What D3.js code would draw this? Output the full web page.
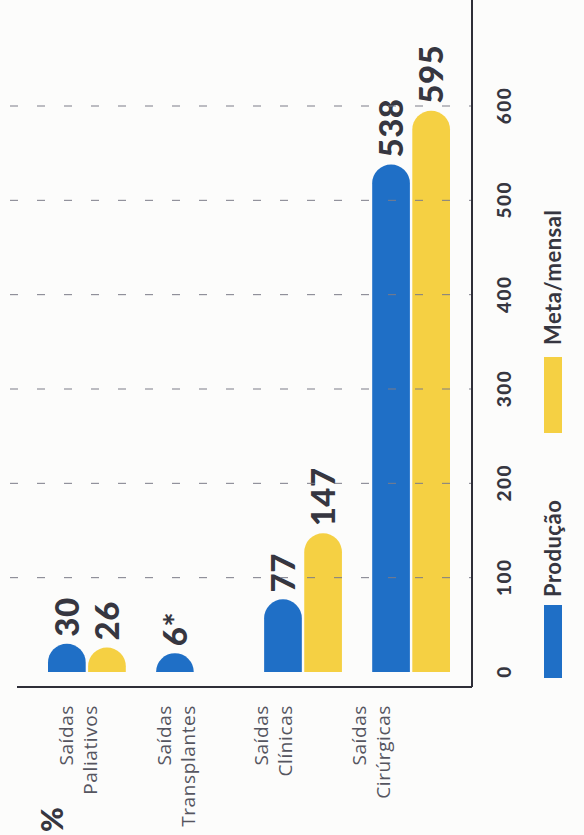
<!DOCTYPE html>
<html>
<head>
<meta charset="utf-8">
<script src="https://cdn.jsdelivr.net/npm/d3@7"></script>
<style>
  html, body { margin: 0; padding: 0; background: #fcfcfb; }
  svg { display: block; }
</style>
</head>
<body>
<svg id="chart" width="584" height="835"></svg>
<script>
// ---- data ----
const categories = ["Saídas Paliativos", "Saídas Transplantes", "Saídas Clínicas", "Saídas Cirúrgicas"];
const categoryLines = [["Saídas", "Paliativos"], ["Saídas", "Transplantes"], ["Saídas", "Clínicas"], ["Saídas", "Cirúrgicas"]];
const seriesNames = ["Produção", "Meta/mensal"];
const producao = [30, 6, 77, 538];
const producaoLabels = ["30", "6*", "77", "538"];
const meta = [26, null, 147, 595];
const metaLabels = ["26", "", "147", "595"];
const tickValues = [0, 100, 200, 300, 400, 500, 600];
const colors = ["#1f6fc6", "#f5d043"];

// ---- layout (chart is drawn horizontally, then rotated -90deg) ----
const W = 835, H = 584;
const svg = d3.select("#chart");
const g = svg.append("g").attr("transform", `translate(0,${835}) rotate(-90)`);

const x = d3.scaleLinear().domain([0, 600]).range([163, 729]);
const y0 = d3.scaleBand().domain(categories).range([48, 450]).paddingInner(0.28).paddingOuter(0);
const y1 = d3.scaleBand().domain(seriesNames).range([0, y0.bandwidth()]).paddingInner(0.06);
const yLabel = d3.scalePoint().domain(categories).range([78, 371]);

const axisV = 472, axisU = 148;
const ink = "#363640";

// rows of data
const rows = categories.map((c, i) => ({
  cat: c,
  values: [
    { s: seriesNames[0], v: producao[i], label: producaoLabels[i], color: colors[0] },
    { s: seriesNames[1], v: meta[i], label: metaLabels[i], color: colors[1] }
  ].filter(d => d.v != null)
}));

// bars
function barPath(d, cat) {
  const w = y1.bandwidth();
  const r = w / 2;
  const b = y0(cat) + y1(d.s);
  const u0 = x(0);
  const L = Math.max(x(d.v) - u0, r);
  const u1 = u0 + L;
  return `M${u0},${b} L${u1 - r},${b} A${r},${r} 0 0 1 ${u1 - r},${b + w} L${u0},${b + w} Z`;
}

const grp = g.selectAll("g.cat").data(rows).enter().append("g").attr("class", "cat");
grp.selectAll("path.bar").data(r => r.values.map(v => Object.assign({ cat: r.cat }, v)))
  .enter().append("path")
  .attr("class", "bar")
  .attr("d", d => barPath(d, d.cat))
  .attr("fill", d => d.color);

// value labels
grp.selectAll("text.val").data(r => r.values.map(v => Object.assign({ cat: r.cat }, v)))
  .enter().append("text")
  .attr("class", "val")
  .attr("x", d => x(0) + Math.max(x(d.v) - x(0), y1.bandwidth() / 2) + 7)
  .attr("y", d => y0(d.cat) + y1(d.s) + y1.bandwidth() / 2 + 12)
  .attr("font-family", "Lato, Roboto, 'Open Sans', sans-serif")
  .attr("font-weight", 900)
  .attr("font-size", 33)
  .attr("letter-spacing", 0.5)
  .attr("fill", ink)
  .text(d => d.label);

// dashed gridlines (drawn over bars)
g.selectAll("line.grid").data(tickValues.filter(t => t > 0))
  .enter().append("line")
  .attr("class", "grid")
  .attr("x1", d => x(d)).attr("x2", d => x(d))
  .attr("y1", 10).attr("y2", axisV)
  .attr("stroke", "#7c7c88")
  .attr("stroke-width", 1)
  .attr("stroke-dasharray", "8,19");

// axes frame
g.append("line").attr("x1", axisU).attr("x2", W).attr("y1", axisV).attr("y2", axisV)
  .attr("stroke", "#2e2e38").attr("stroke-width", 2);
g.append("line").attr("x1", axisU).attr("x2", axisU).attr("y1", 17).attr("y2", axisV)
  .attr("stroke", "#2e2e38").attr("stroke-width", 2);

// tick labels via d3 axis
const axis = d3.axisBottom(x).tickValues(tickValues).tickSize(0).tickPadding(0).tickFormat(d3.format("d"));
const axG = g.append("g").attr("transform", `translate(0,${497})`).call(axis);
axG.select(".domain").remove();
axG.selectAll("text")
  .attr("font-family", "Lato, Roboto, 'Open Sans', sans-serif")
  .attr("font-weight", 900)
  .attr("font-size", 19)
  .attr("letter-spacing", 1.5)
  .attr("fill", ink);

// category labels
const cl = g.selectAll("text.cat").data(categories).enter().append("text")
  .attr("class", "cat")
  .attr("text-anchor", "end")
  .attr("font-family", "'Open Sans', Lato, sans-serif")
  .attr("font-weight", 400)
  .attr("font-size", 19)
  .attr("letter-spacing", 0.6)
  .attr("fill", "#55555f");
cl.each(function (c, i) {
  const t = d3.select(this);
  categoryLines[i].forEach((line, k) => {
    t.append("tspan").attr("x", 130).attr("y", yLabel(c) - 5 + k * 24).text(line);
  });
});

// legend
const legendU = [157, 402];
const lg = g.selectAll("g.legend").data(seriesNames).enter().append("g").attr("class", "legend");
lg.append("rect")
  .attr("x", (d, i) => legendU[i]).attr("y", 544)
  .attr("width", (d, i) => i === 0 ? 73 : 76).attr("height", 18)
  .attr("fill", (d, i) => colors[i]);
lg.append("text")
  .attr("x", (d, i) => legendU[i] + (i === 0 ? 81 : 88)).attr("y", 561)
  .attr("font-family", "Lato, Roboto, 'Open Sans', sans-serif")
  .attr("font-weight", 700)
  .attr("font-size", 22)
  .attr("letter-spacing", 0.5)
  .attr("fill", ink)
  .text(d => d);

// fragment at the page edge
g.append("text").attr("x", 3).attr("y", 63).attr("text-anchor", "start")
  .attr("font-family", "Lato, Roboto, sans-serif").attr("font-weight", 900)
  .attr("font-size", 30).attr("fill", ink).text("%");
</script>
</body>
</html>
